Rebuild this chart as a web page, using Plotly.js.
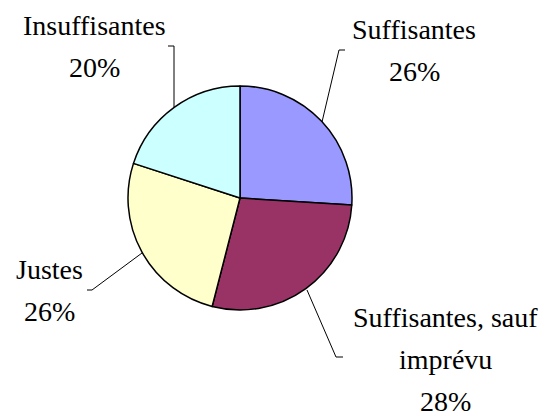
<!DOCTYPE html>
<html>
<head>
<meta charset="utf-8">
<script src="https://cdn.plot.ly/plotly-3.0.1.min.js"></script>
<style>html,body{margin:0;padding:0;background:#fff;}#chart{width:547px;height:416px;}</style>
</head>
<body>
<div id="chart"></div>
<script>
// Data
const categories = ["Suffisantes", "Suffisantes, sauf imprévu", "Justes", "Insuffisantes"];
const values = [26, 28, 26, 20];
const colors = ["#9999FF", "#993366", "#FFFFCC", "#CCFFFF"];
const labelLines = [["Suffisantes"], ["Suffisantes, sauf", "imprévu"], ["Justes"], ["Insuffisantes"]];

const W = 547, H = 416;
const toPx = x => x / W;
const toPy = y => 1 - y / H;

// Label layout (pixel positions of first line baseline-center)
const labelPos = [
  {x: 414, y: 39},
  {x: 445, y: 327},
  {x: 49, y: 279},
  {x: 94, y: 35}
];
const lineGap = 42;

const total = values.reduce((a, b) => a + b, 0);
const annotations = [];
categories.forEach((c, i) => {
  const lines = labelLines[i].concat([Math.round(values[i] / total * 100) + "%"]);
  lines.forEach((t, j) => {
    annotations.push({
      showarrow: false, xref: "paper", yref: "paper",
      x: toPx(labelPos[i].x), xanchor: "center",
      y: toPy(labelPos[i].y + j * lineGap - 9.5), yanchor: "middle",
      text: t,
      font: {family: "Times New Roman", size: 28, color: "#000000"}
    });
  });
});

// Leader lines
const leaders = [
  [[345, 50], [339, 50], [322, 122]],
  [[307, 290], [336, 357], [343, 357]],
  [[142, 253], [92, 290], [87, 290]],
  [[168, 46], [174, 46], [174, 107]]
];
const shapes = leaders.map(pts => ({
  type: "path", xref: "paper", yref: "paper",
  path: pts.map((p, k) => (k ? "L" : "M") + toPx(p[0]) + "," + toPy(p[1])).join(" "),
  line: {color: "#000", width: 1}
}));

const trace = {
  type: "pie",
  labels: categories,
  values: values,
  sort: false,
  direction: "clockwise",
  textinfo: "none",
  hoverinfo: "none",
  marker: {colors: colors, line: {color: "#000", width: 1.5}},
  domain: {x: [toPx(128), toPx(352)], y: [toPy(310), toPy(86)]},
  showlegend: false
};

Plotly.newPlot("chart", [trace], {
  width: W, height: H,
  margin: {l: 0, r: 0, t: 0, b: 0},
  annotations: annotations,
  shapes: shapes
}, {staticPlot: true});
</script>
</body>
</html>
